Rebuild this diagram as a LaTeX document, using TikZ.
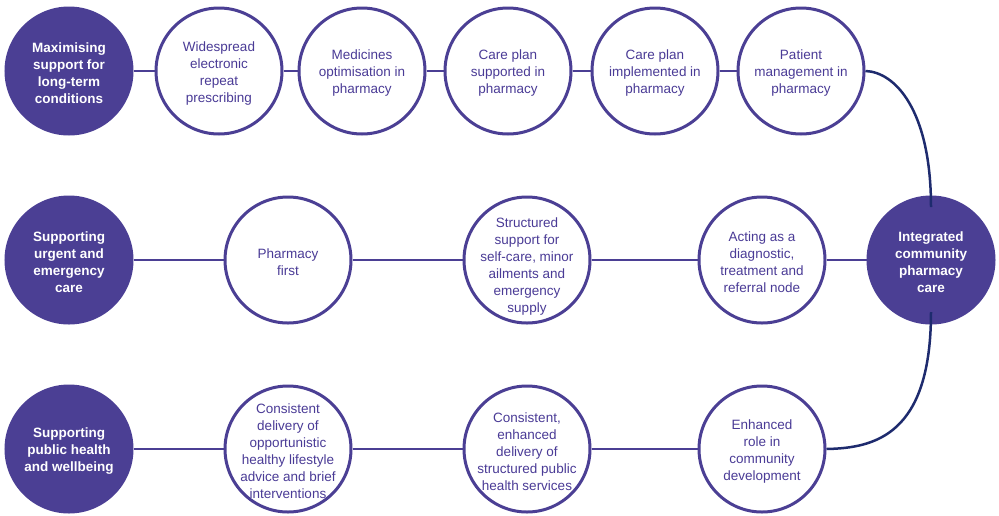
\documentclass[tikz,border=0pt]{standalone}
\usepackage{fontspec}
\setmainfont{Liberation Sans}
\definecolor{pfill}{HTML}{4B3F94}
\definecolor{ptext}{HTML}{4A3B96}
\definecolor{navy}{HTML}{1E2B6E}
\tikzset{
  base/.style={circle, minimum size=126pt, inner sep=0pt, line width=3pt, draw=pfill},
  goal/.style={base, fill=pfill},
  stepnode/.style={base, fill=white},
  goaltext/.style={align=center, text=white, inner sep=0pt, yshift=-2.5pt,
    font=\fontsize{13.5}{17}\selectfont\bfseries},
  steptext/.style={align=center, text=ptext, inner sep=0pt, yshift=-2.5pt,
    font=\fontsize{13.5}{17}\selectfont},
  link/.style={draw=pfill, line width=2.2pt},
  curve/.style={draw=navy, line width=2.5pt}
}
\begin{document}
\begin{tikzpicture}[x=1pt,y=-1pt]
\useasboundingbox (0,0) rectangle (999,515);
% row 1
\node[goal, label={[goaltext]center:{Maximising\\support for\\long-term\\conditions}}] (f1) at (69,71) {};
\node[stepnode, label={[steptext]center:{Widespread\\electronic\\repeat\\prescribing}}] (a1) at (219,71) {};
\node[stepnode, label={[steptext]center:{Medicines\\optimisation in\\pharmacy}}] (a2) at (362,71) {};
\node[stepnode, label={[steptext]center:{Care plan\\supported in\\pharmacy}}] (a3) at (508,71) {};
\node[stepnode, label={[steptext]center:{Care plan\\implemented in\\pharmacy}}] (a4) at (655,71) {};
\node[stepnode, label={[steptext]center:{Patient\\management in\\pharmacy}}] (a5) at (801,71) {};
% row 2
\node[goal, label={[goaltext]center:{Supporting\\urgent and\\emergency\\care}}] (f2) at (69,260) {};
\node[stepnode, label={[steptext]center:{Pharmacy\\first}}] (b1) at (288,260) {};
\node[stepnode, label={[steptext, yshift=-4pt]center:{Structured\\support for\\self-care, minor\\ailments and\\emergency\\supply}}] (b2) at (527,260) {};
\node[stepnode, label={[steptext]center:{Acting as a\\diagnostic,\\treatment and\\referral node}}] (b3) at (762,260) {};
\node[goal, label={[goaltext]center:{Integrated\\community\\pharmacy\\care}}] (ic) at (931,260) {};
% row 3
\node[goal, label={[goaltext]center:{Supporting\\public health\\and wellbeing}}] (f3) at (69,449) {};
\node[stepnode, label={[steptext]center:{Consistent\\delivery of\\opportunistic\\healthy lifestyle\\advice and brief\\interventions}}] (c1) at (288,449) {};
\node[stepnode, label={[steptext]center:{Consistent,\\enhanced\\delivery of\\structured public\\health services}}] (c2) at (527,449) {};
\node[stepnode, label={[steptext]center:{Enhanced\\role in\\community\\development}}] (c3) at (762,449) {};
% connectors
\draw[link] (f1) -- (a1);
\draw[link] (a1) -- (a2);
\draw[link] (a2) -- (a3);
\draw[link] (a3) -- (a4);
\draw[link] (a4) -- (a5);
\draw[link] (f2) -- (b1);
\draw[link] (b1) -- (b2);
\draw[link] (b2) -- (b3);
\draw[link] (b3) -- (ic);
\draw[link] (f3) -- (c1);
\draw[link] (c1) -- (c2);
\draw[link] (c2) -- (c3);
% curves
\coordinate (ictop) at (931,207);
\coordinate (icbot) at (931,312);
\draw[curve] (a5.east) .. controls (895,72) and (931,110) .. (ictop);
\draw[curve] (icbot) .. controls (931,435) and (875,448) .. (c3.east);
\end{tikzpicture}
\end{document}
